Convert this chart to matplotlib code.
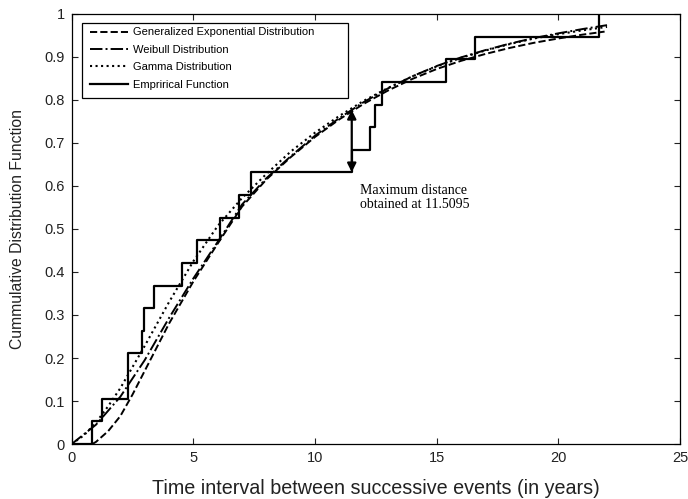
import numpy as np
import matplotlib
matplotlib.use('Agg')
import matplotlib.pyplot as plt
from matplotlib.patches import Rectangle

plt.rcParams['font.family'] = 'Liberation Sans'

# empirical step function (distinct event intervals and cdf level after each)
emp_x = [0.82, 1.23, 2.33, 2.88, 2.99, 3.40, 4.52, 5.14, 6.10, 6.86, 7.37,
         11.51, 12.26, 12.48, 12.77, 15.38, 16.56, 21.67]
emp_y = [0.053, 0.105, 0.211, 0.263, 0.316, 0.368, 0.421, 0.474, 0.526, 0.579,
         0.632, 0.684, 0.737, 0.789, 0.842, 0.895, 0.947, 1.0]

# generalized exponential (dashed)
ge_x = [0.85, 1.0, 1.5, 2.0, 2.5, 3.0, 4.0, 5.0, 6.0, 7.0, 8.0, 9.0, 10.0, 11.0,
        12.0, 13.0, 14.0, 15.0, 16.0, 17.0, 18.0, 19.0, 20.0, 21.0, 21.9]
ge_y = [0.0, 0.005, 0.03, 0.065, 0.115, 0.17, 0.28, 0.378, 0.466, 0.552, 0.615,
        0.667, 0.714, 0.755, 0.791, 0.822, 0.849, 0.872, 0.891, 0.907, 0.921,
        0.933, 0.943, 0.952, 0.959]

# weibull (dash-dot)
wb_x = [0, 1, 2, 3, 4, 5, 6, 7, 8, 9, 10, 11, 12, 13, 14, 15, 16, 17, 18, 19,
        20, 21, 22]
wb_y = [0.0, 0.045, 0.11, 0.195, 0.293, 0.385, 0.47, 0.557, 0.618, 0.669, 0.717,
        0.758, 0.795, 0.827, 0.855, 0.879, 0.899, 0.916, 0.931, 0.944, 0.955,
        0.965, 0.974]

# gamma (dotted)
gm_x = [0, 0.5, 1, 1.5, 2, 3, 4, 5, 6, 7, 8, 9, 10, 11, 12, 13, 14, 15, 16, 17,
        18, 19, 20, 21, 22]
gm_y = [0.0, 0.02, 0.05, 0.088, 0.13, 0.228, 0.33, 0.425, 0.507, 0.572, 0.628,
        0.68, 0.724, 0.763, 0.798, 0.828, 0.855, 0.878, 0.898, 0.915, 0.93,
        0.943, 0.953, 0.962, 0.97]

max_x = 11.5095
max_lo = 0.632
max_hi = 0.777

fig = plt.figure(figsize=(6.88, 4.99), dpi=100)
ax = fig.add_axes([0.1042, 0.1102, 0.8842, 0.8618])

ax.plot(ge_x, ge_y, 'k--', lw=1.4, label='Generalized Exponential Distribution')
ax.plot(wb_x, wb_y, 'k-.', lw=1.4, label='Weibull Distribution')
ax.plot(gm_x, gm_y, 'k:', lw=1.5, label='Gamma Distribution')
ax.step([0] + emp_x, [0] + emp_y, where='post', color='k', lw=1.6,
        label='Emprirical Function')

ax.annotate('', xy=(max_x, max_hi), xytext=(max_x, max_lo),
            arrowprops=dict(arrowstyle='<|-|>', color='k', lw=1.6,
                            mutation_scale=13, shrinkA=0, shrinkB=0))
ax.text(11.85, 0.573, 'Maximum distance\nobtained at 11.5095',
        family='Liberation Serif', fontsize=10, va='center', ha='left',
        linespacing=1.05)

ax.set_xlim(0, 25)
ax.set_ylim(0, 1)
ax.set_xticks(np.arange(0, 26, 5))
ax.set_yticks(np.arange(0, 1.01, 0.1))
ax.set_yticklabels(['0', '0.1', '0.2', '0.3', '0.4', '0.5', '0.6', '0.7',
                    '0.8', '0.9', '1'])
ax.tick_params(direction='in', top=True, right=True, labelsize=10.5,
               colors='#222222', length=4.5, width=0.8, pad=5)
for s in ax.spines.values():
    s.set_linewidth(0.9)

ax.set_xlabel('Time interval between successive events (in years)',
              fontsize=14.2, color='#222222', labelpad=10)
ax.set_ylabel('Cummulative Distribution Function', fontsize=11.3,
              color='#222222', labelpad=14)

leg = ax.legend(loc='upper left', bbox_to_anchor=(0.0229, 0.979), fontsize=8,
                frameon=False, handlelength=3.4, handletextpad=0.45,
                labelspacing=0.67, borderpad=0.4, borderaxespad=0)
ax.add_patch(Rectangle((0.017, 0.805), 0.437, 0.174, transform=ax.transAxes,
                       facecolor='none', edgecolor='k', lw=0.9, zorder=4))

plt.savefig('out.png', dpi=100)
